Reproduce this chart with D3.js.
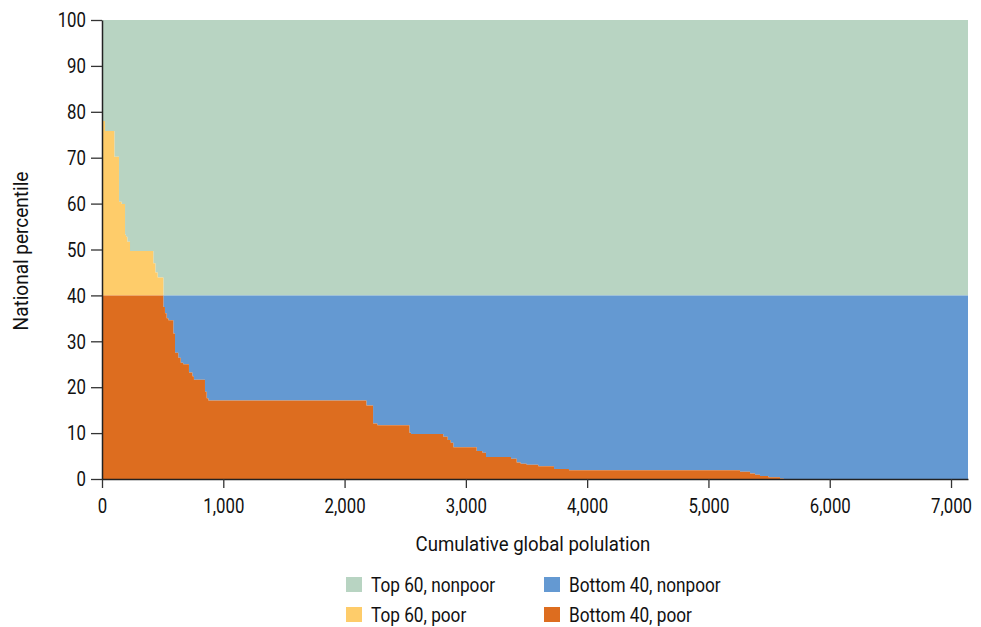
<!DOCTYPE html>
<html>
<head>
<meta charset="utf-8">
<script src="https://cdn.jsdelivr.net/npm/d3@7"></script>
<style>
  html, body { margin: 0; padding: 0; background: #fff; }
  svg { display: block; font-family: "Roboto", "Liberation Sans", sans-serif; }
</style>
</head>
<body>
<svg id="chart" width="981" height="627"></svg>
<script>
// Population (millions) at which each step of the poverty-line percentile begins
const stepStart = [0, 25, 102, 140, 162, 190, 198, 209, 231, 423, 440, 459, 506, 519, 533, 547, 588, 602, 629, 649, 670, 717, 745, 758, 849, 863, 877, 2180, 2235, 2270, 2534, 2548, 2814, 2850, 2875, 2897, 3089, 3136, 3166, 3372, 3419, 3452, 3501, 3597, 3727, 3850, 5260, 5343, 5384, 5425, 5494, 5590, 5620];
// National percentile of the global poverty line for each step
const stepValue = [78, 75.8, 70.2, 60.4, 59.9, 53.2, 52.8, 51.7, 49.7, 47, 45, 43.9, 37.5, 36.1, 35, 34.6, 31.7, 27.5, 26.4, 25.3, 25, 23.2, 22.4, 21.6, 19, 17.6, 17.1, 16, 12.1, 11.7, 10.1, 9.8, 9.2, 8.5, 7.9, 6.9, 6.1, 5.7, 4.8, 4.4, 3.6, 3.3, 3.1, 2.8, 2.2, 1.9, 1.6, 1.2, 0.9, 0.65, 0.36, 0.1, 0];
const totalPopulation = 7140;
const threshold = 40;
const xTicks = [0, 1000, 2000, 3000, 4000, 5000, 6000, 7000];
const yTicks = [0, 10, 20, 30, 40, 50, 60, 70, 80, 90, 100];
const legendLabels = ["Top 60, nonpoor", "Bottom 40, nonpoor", "Top 60, poor", "Bottom 40, poor"];
const colors = {
  "Top 60, nonpoor": "#b8d4c2",
  "Top 60, poor": "#fecc6a",
  "Bottom 40, nonpoor": "#6499d2",
  "Bottom 40, poor": "#dd6d1f"
};

const svg = d3.select("#chart");
const x = d3.scaleLinear().domain([0, totalPopulation]).range([102, 968]);
const y = d3.scaleLinear().domain([0, 100]).range([479, 20]);

const data = stepStart.map((s, i) => ({ x: s, v: stepValue[i] }));
data.push({ x: totalPopulation, v: stepValue[stepValue.length - 1] });

const mk = (y0f, y1f) => d3.area().curve(d3.curveStepAfter)
  .x(d => x(d.x)).y0(d => y(y0f(d))).y1(d => y(y1f(d)));

const g = svg.append("g");
g.append("path").datum(data).attr("fill", colors["Top 60, nonpoor"])
  .attr("d", mk(d => Math.max(d.v, threshold), d => 100));
g.append("path").datum(data).attr("fill", colors["Top 60, poor"])
  .attr("d", mk(d => threshold, d => Math.max(d.v, threshold)));
g.append("path").datum(data).attr("fill", colors["Bottom 40, nonpoor"])
  .attr("d", mk(d => Math.min(d.v, threshold), d => threshold));
g.append("path").datum(data).attr("fill", colors["Bottom 40, poor"])
  .attr("d", mk(d => 0, d => Math.min(d.v, threshold)));

// condensed look: squeeze glyphs horizontally
function condense(sel, factor) {
  sel.each(function () {
    const w = this.getComputedTextLength();
    d3.select(this).attr("textLength", (w * factor).toFixed(2)).attr("lengthAdjust", "spacingAndGlyphs");
  });
}

// Axes
const xAxis = svg.append("g").attr("transform", `translate(0,${y(0)})`)
  .call(d3.axisBottom(x).tickValues(xTicks).tickFormat(d3.format(",")).tickSize(9).tickSizeOuter(0).tickPadding(10));
const yAxis = svg.append("g").attr("transform", `translate(${x(0)},0)`)
  .call(d3.axisLeft(y).tickValues(yTicks).tickSize(11).tickSizeOuter(0).tickPadding(5));
[xAxis, yAxis].forEach(a => {
  a.selectAll("path.domain").attr("stroke", "#222").attr("stroke-width", 1.5);
  a.selectAll(".tick line").attr("stroke", "#333").attr("stroke-width", 1.3);
  a.selectAll("text").attr("font-size", 21).attr("fill", "#111")
    .attr("font-family", "Roboto, sans-serif");
  condense(a.selectAll("text"), 0.8);
});

// Axis titles
const xt = svg.append("text").attr("x", 533).attr("y", 551).attr("text-anchor", "middle")
  .attr("font-size", 20).attr("fill", "#111").text("Cumulative global polulation");
const yt = svg.append("text").attr("transform", "translate(28,251) rotate(-90)").attr("text-anchor", "middle")
  .attr("font-size", 20).attr("fill", "#111").text("National percentile");
condense(xt, 0.93);
condense(yt, 0.95);

// Legend
const legendPos = [[346, 577], [544, 577], [346, 607], [544, 607]];
legendLabels.forEach((lab, i) => {
  const [lx, ly] = legendPos[i];
  svg.append("rect").attr("x", lx).attr("y", ly).attr("width", 16).attr("height", 15)
    .attr("fill", colors[lab]);
  const t = svg.append("text").attr("x", lx + 25).attr("y", ly + 15)
    .attr("font-size", 20).attr("fill", "#111").text(lab);
  condense(t, 0.86);
});
</script>
</body>
</html>
